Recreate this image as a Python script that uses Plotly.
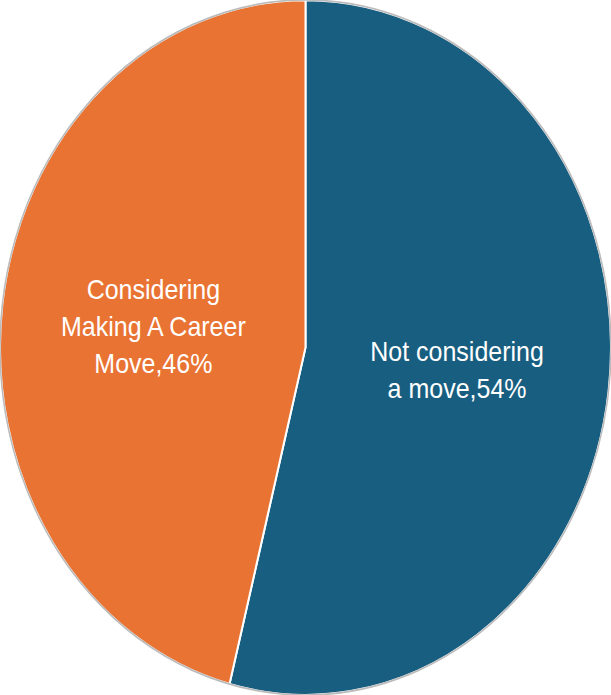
import plotly.graph_objects as go

labels = ['Not considering a move', 'Considering Making A Career Move']
values = [54, 46]
texts = ['Not considering<br>a move,54%', 'Considering<br>Making A Career<br>Move,46%']
colors = ['#185E80', '#E97333']

fig = go.Figure(data=go.Pie(
    labels=labels,
    values=values,
    text=texts,
    textinfo='text',
    textposition='inside',
    insidetextorientation='horizontal',
    sort=False,
    direction='clockwise',
    rotation=0,
    marker=dict(colors=colors, line=dict(color='white', width=2)),
    textfont=dict(family='Arial', size=25, color='white'),
    showlegend=False,
    hoverinfo='label+percent',
))

# thin grey rim round the pie
fig.add_shape(type='circle', xref='paper', yref='paper', x0=0, y0=0, x1=1, y1=1,
              line=dict(color='#BBBBBB', width=1.5), layer='above')

fig.update_layout(
    width=611,
    height=611,
    margin=dict(l=0, r=0, t=0, b=0),
    paper_bgcolor='white',
    plot_bgcolor='white',
)

# the original chart is stretched vertically into an ellipse
stretch = """
document.body.style.margin = '0';
var gd = document.getElementsByClassName('plotly-graph-div')[0];
gd.style.transformOrigin = '0 0';
gd.style.transform = 'scaleY(' + (695 / 611) + ')';
"""

fig.write_html("out.html", post_script=stretch, config={'displayModeBar': False})
